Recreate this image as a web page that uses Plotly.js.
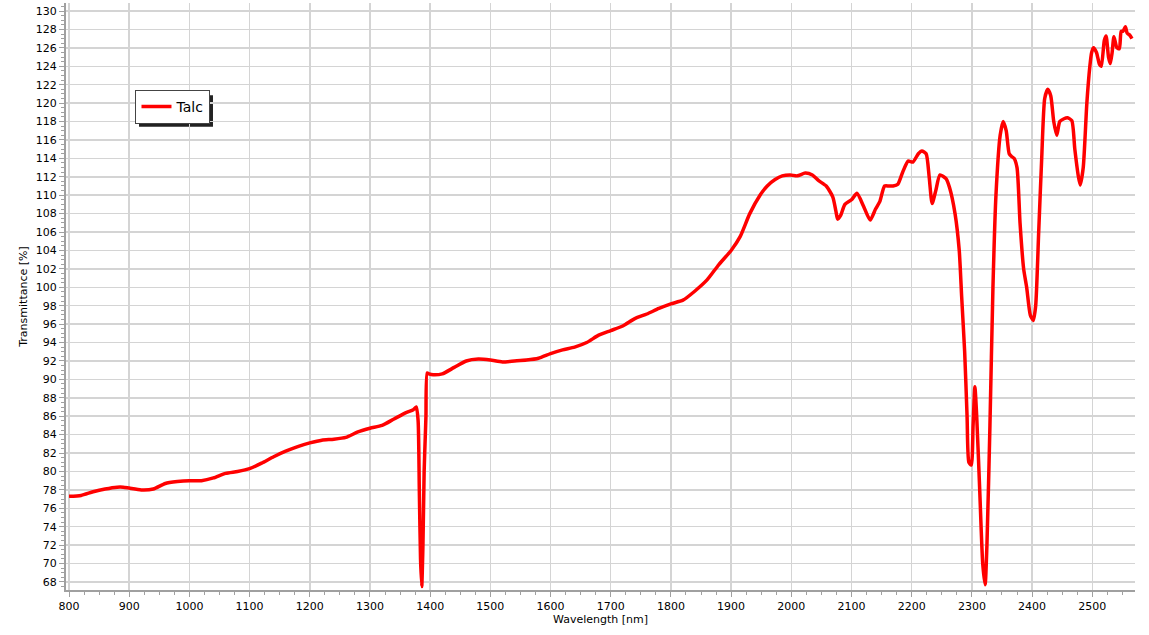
<!DOCTYPE html>
<html>
<head>
<meta charset="utf-8">
<script src="https://cdn.plot.ly/plotly-3.0.1.min.js"></script>
<style>html,body{margin:0;padding:0;background:#fff;}#chart{width:1149px;height:635px;}</style>
</head>
<body>
<div id="chart"></div>
<script>
const seriesName = "Talc";
const wavelength = [
 800,820,840,860,880,890,900,920,940,960,980,1000,1020,1040,1060,1080,1100,1120,1140,1160,1180,1200,1220,1240,1260,1280,1300,1320,1340,1360,1372,1377,
 1380,1382,1384,1386,1388,1390,1392,1393,1395,1398,1405,1420,1440,1460,1480,1500,1520,1540,1560,1580,1600,1620,1640,1660,1680,1700,1720,1740,1760,1780,1800,1820,1840,1860,1880,1900,1915,1931,1948,1960,1973,1985,1998,2010,2023,2035,2045,2058,2069,2074,2077,2082,2089,2100,2109,2120,2131,2140,2147,2155,2162,2169,2177,2185,2194,2202,2211,2217,2224,2229,2234,2240,2247,2257,2263,2272,2279,2283,2288,2292,2295,2299,2302,2305,2308,2313,2318,2322,2325,2330,2335,2340,2347,2352,2357,2362,2366,2370,2375,2380,2386,2391,2397,2402,2406,2411,2416,2421,2426,2431,2436,2441,2446,2453,2459,2466,2471,2477,2480,2485,2491,2496,2499,2502,2507,2512,2515,2520,2523,2527,2530,2533,2536,2541,2545,2548,2551,2555,2558,2562,2566
];
const transmittance = [
 77.3,77.4,77.8,78.1,78.3,78.3,78.2,78.0,78.1,78.7,78.9,79.0,79.0,79.3,79.8,80.0,80.3,80.9,81.6,82.2,82.7,83.1,83.4,83.5,83.7,84.3,84.7,85.0,85.7,86.4,86.7,87.0,
 85.5,78.0,70.5,67.5,72.0,80.0,84.0,86.0,90.7,90.6,90.5,90.6,91.3,92.0,92.2,92.1,91.9,92.0,92.1,92.3,92.8,93.2,93.5,94.0,94.8,95.3,95.8,96.6,97.1,97.7,98.2,98.6,99.6,100.8,102.5,104.0,105.5,108.0,110.0,111.0,111.7,112.1,112.2,112.1,112.4,112.2,111.6,111.0,109.8,108.3,107.4,107.8,109.0,109.5,110.2,108.8,107.3,108.5,109.3,111.0,111.0,111.0,111.2,112.5,113.7,113.6,114.5,114.8,114.5,112.0,109.1,110.5,112.2,111.8,110.8,108.0,104.0,99.0,93.0,86.0,81.0,80.7,85.0,89.2,86.0,78.0,70.0,67.7,72.0,85.0,100.0,110.0,116.5,118.0,117.0,114.5,114.2,114.0,113.0,107.0,102.0,100.0,97.0,96.4,98.0,106.0,114.0,120.5,121.5,120.8,118.0,116.5,118.0,118.3,118.4,118.1,115.0,112.0,111.1,113.0,120.0,124.0,125.5,126.0,125.5,124.2,124.0,126.8,127.3,125.0,124.3,125.5,127.2,126.0,125.9,127.8,127.8,128.3,127.6,127.4,127.0
];
const yTicks = [68,70,72,74,76,78,80,82,84,86,88,90,92,94,96,98,100,102,104,106,108,110,112,114,116,118,120,122,124,126,128,130];
const xTicks = [800,900,1000,1100,1200,1300,1400,1500,1600,1700,1800,1900,2000,2100,2200,2300,2400,2500];

const trace = {
  x: wavelength, y: transmittance, type: 'scatter', mode: 'lines', name: seriesName,
  line: {color: '#ff0000', width: 3.5, shape: 'spline', smoothing: 0.6}
};
const layout = {
  width: 1149, height: 635,
  margin: {l: 66, r: 14, t: 3, b: 45},
  paper_bgcolor: '#ffffff', plot_bgcolor: '#ffffff',
  font: {family: 'DejaVu Sans, Verdana, sans-serif', size: 11, color: '#000'},
  showlegend: true,
  legend: {x: 0.065, y: 0.852, xanchor: 'left', yanchor: 'top', bgcolor: '#ffffff', bordercolor: '#444444', borderwidth: 1,
    font: {family: 'DejaVu Sans, Verdana, sans-serif', size: 14, color: '#000'}, itemwidth: 30},
  xaxis: {
    range: [795, 2571], tickvals: xTicks, ticktext: xTicks.map(String),
    showgrid: true, gridcolor: '#d4d4d4', gridwidth: 1.5, zeroline: false,
    showline: true, linecolor: '#a0a0a0', linewidth: 2, mirror: false,
    ticks: 'outside', ticklen: 5, tickcolor: '#a0a0a0', tickwidth: 1,
    minor: {dtick: 25, tick0: 800, ticks: 'outside', ticklen: 3, tickcolor: '#a0a0a0', showgrid: false},
    tickfont: {size: 11}, title: {text: 'Wavelength [nm]', font: {size: 11}, standoff: 2}
  },
  yaxis: {
    range: [67.13, 130.87], tickvals: yTicks, ticktext: yTicks.map(String),
    showgrid: true, gridcolor: '#d4d4d4', gridwidth: 1.5, zeroline: false,
    showline: true, linecolor: '#a0a0a0', linewidth: 2,
    ticks: 'outside', ticklen: 5, tickcolor: '#a0a0a0', tickwidth: 1,
    minor: {dtick: 0.5, tick0: 68, ticks: 'outside', ticklen: 3, tickcolor: '#a0a0a0', showgrid: false},
    tickfont: {size: 11}, title: {text: 'Transmittance [%]', font: {size: 11}, standoff: 6}
  },
  shapes: [
    {type: 'rect', xref: 'paper', yref: 'paper', x0: 0.0683, x1: 0.1375, y0: 0.789, y1: 0.843,
     fillcolor: '#222222', line: {width: 0}, layer: 'below'}
  ]
};
Plotly.newPlot('chart', [trace], layout, {displayModeBar: false, staticPlot: true});
</script>
</body>
</html>
